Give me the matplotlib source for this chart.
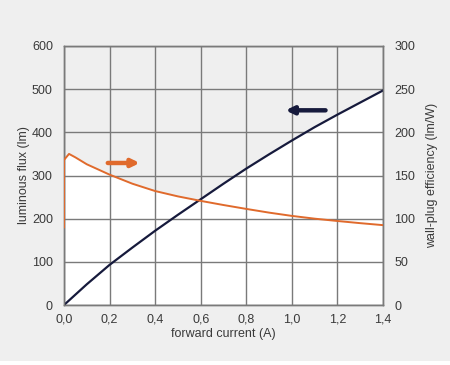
import matplotlib
matplotlib.use("Agg")
import matplotlib.pyplot as plt
import numpy as np

plt.rcParams['font.family'] = ['Liberation Sans', 'DejaVu Sans']

# forward current (A) vs luminous flux (lm)
flux_i = [0.0, 0.1, 0.2, 0.3, 0.4, 0.5, 0.6, 0.7, 0.8, 0.9, 1.0, 1.1, 1.2, 1.3, 1.4]
flux_lm = [0, 48, 93, 133, 172, 209, 245, 281, 316, 349, 381, 412, 441, 469, 497]

# forward current (A) vs wall-plug efficiency (lm/W)
eff_i = [0.0, 0.0, 0.022, 0.05, 0.1, 0.15, 0.2, 0.3, 0.4, 0.5, 0.6, 0.7, 0.8, 0.9, 1.0, 1.1, 1.2, 1.3, 1.4]
eff_lmw = [90, 168, 175, 171, 163, 157, 151, 140.5, 132, 125.8, 120.6, 115.8, 111.3, 107, 103.2, 100, 97.3, 94.8, 92.5]

x_ticks = [0.0, 0.2, 0.4, 0.6, 0.8, 1.0, 1.2, 1.4]
x_labels = ['0,0', '0,2', '0,4', '0,6', '0,8', '1,0', '1,2', '1,4']
left_ticks = [0, 100, 200, 300, 400, 500, 600]
right_ticks = [0, 50, 100, 150, 200, 250, 300]

bg = '#efefef'
txt = '#3a3a3a'
gridc = '#7a7a7a'
orange = '#e06a2c'
navy = '#161a3c'

fig = plt.figure(figsize=(4.5, 3.65), dpi=100, facecolor=bg)
ax = fig.add_axes([64/450, 60/365, (383-64)/450, (305-46)/365])
ax.set_facecolor(bg)
ax.set_xlim(0, 1.4)
ax.set_ylim(0, 600)
ax2 = ax.twinx()
ax2.set_ylim(0, 300)
ax.set_zorder(0)
ax2.patch.set_visible(False)

# white area under the upper envelope of both curves
ax.fill_between(flux_i, 0, flux_lm, color='white', zorder=0.2, lw=0)
ax.fill_between(eff_i, 0, [v * 2 for v in eff_lmw], color='white', zorder=0.2, lw=0)

ax.set_xticks(x_ticks)
ax.set_xticklabels(x_labels)
ax.set_yticks(left_ticks)
ax2.set_yticks(right_ticks)
ax.grid(True, color=gridc, lw=1.0)
ax.set_axisbelow(True)
for a in (ax, ax2):
    a.tick_params(length=0, labelsize=9, colors=txt)
    for s in a.spines.values():
        s.set_color(gridc)
        s.set_linewidth(1.0)
ax.tick_params(axis='y', pad=8)
ax.tick_params(axis='x', pad=6)
ax2.tick_params(axis='y', pad=8)

ax.plot(flux_i, flux_lm, color=navy, lw=1.6, zorder=3)
ax2.plot(eff_i, eff_lmw, color=orange, lw=1.4, zorder=3)

ax.set_xlabel('forward current (A)', fontsize=9, color=txt, labelpad=2)
ax.set_ylabel('luminous flux (lm)', fontsize=9, color=txt, labelpad=1)
ax2.set_ylabel('wall-plug efficiency (lm/W)', fontsize=9, color=txt, labelpad=8)

# arrows
ax2.annotate('', xy=(0.345, 164.5), xytext=(0.18, 164.5),
             arrowprops=dict(arrowstyle='-|>,head_length=0.45,head_width=0.22', color=orange, lw=3.2))
ax.annotate('', xy=(0.96, 451), xytext=(1.16, 451),
             arrowprops=dict(arrowstyle='-|>,head_length=0.45,head_width=0.22', color=navy, lw=3.2))

fig.patches.append(plt.Rectangle((0, 0), 1, 4/365, transform=fig.transFigure,
                                 facecolor='white', edgecolor='none'))

fig.savefig('out.png', dpi=100, facecolor=bg)
